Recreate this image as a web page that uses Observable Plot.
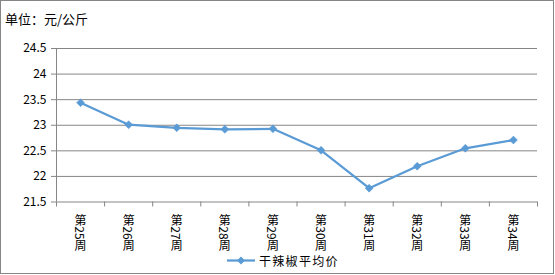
<!DOCTYPE html>
<html>
<head>
<meta charset="utf-8">
<script src="https://cdn.jsdelivr.net/npm/d3@7"></script>
<script src="https://cdn.jsdelivr.net/npm/@observablehq/plot@0.6"></script>
<style>
  html, body { margin: 0; padding: 0; background: #fff; }
  #chart svg { display: block; }
</style>
</head>
<body>
<div id="chart"></div>
<script>
const weeks = ["第25周","第26周","第27周","第28周","第29周","第30周","第31周","第32周","第33周","第34周"];
const prices = [23.44, 23.01, 22.95, 22.92, 22.93, 22.51, 21.77, 22.20, 22.55, 22.71];
const yTicks = [21.5, 22, 22.5, 23, 23.5, 24, 24.5];
const titleText = "单位：元/公斤";
const seriesName = "干辣椒平均价";

const data = weeks.map((w, i) => ({week: w, i, price: prices[i]}));
const boundaries = d3.range(-0.5, weeks.length, 1);

const font = "'Noto Sans CJK SC', 'Noto Sans', sans-serif";
const lineColor = "#5B9BD5";
const gridColor = "#868686";

const plot = Plot.plot({
  width: 555,
  height: 275,
  marginLeft: 56,
  marginRight: 18,
  marginTop: 48,
  marginBottom: 73.5,
  style: {fontFamily: font, fontSize: "12px", background: "#fff"},
  x: {domain: [-0.5, weeks.length - 0.5]},
  y: {domain: [21.5, 24.5]},
  marks: [
    Plot.ruleY(yTicks, {stroke: gridColor, strokeWidth: 1}),
    Plot.ruleX([-0.5], {stroke: gridColor, strokeWidth: 1}),
    Plot.axisY({ticks: yTicks, tickSize: 5, tickPadding: 5, tickFormat: d => String(d), stroke: gridColor, fill: "#000", fontSize: 12, label: null}),
    Plot.axisX({ticks: boundaries, tickSize: 5, tickFormat: () => "", stroke: gridColor, label: null}),
    Plot.text(data, {x: "i", y: () => 21.5, text: "week", dy: 8.5, textAnchor: "start", fill: "#000", fontSize: 12, className: "xlabels"}),
    Plot.line(data, {x: "i", y: "price", stroke: lineColor, strokeWidth: 2.25}),
    Plot.dot(data, {x: "i", y: "price", symbol: "diamond2", r: 3.6, fill: lineColor, stroke: lineColor, strokeWidth: 0.5})
  ]
});

document.getElementById("chart").append(plot);
const svg = d3.select(plot);

// vertical labels
svg.selectAll(".xlabels text")
  .attr("dy", null)
  .style("writing-mode", "vertical-rl")
  .style("text-orientation", "mixed");

// outer border
svg.append("rect").attr("x", 0.5).attr("y", 0.5).attr("width", 553).attr("height", 273)
  .attr("fill", "none").attr("stroke", gridColor).attr("stroke-width", 1);

// title
svg.append("text").attr("x", 5).attr("y", 18).attr("dominant-baseline", "central")
  .attr("text-anchor", "start")
  .attr("font-family", font).attr("font-size", 13).attr("fill", "#000").text(titleText);

// legend
const lg = svg.append("g");
lg.append("line").attr("x1", 227).attr("x2", 255).attr("y1", 260.5).attr("y2", 260.5)
  .attr("stroke", lineColor).attr("stroke-width", 2.25);
lg.append("path").attr("transform", "translate(241,260.5)")
  .attr("d", d3.symbol(d3.symbolDiamond2, 40)()).attr("fill", lineColor);
lg.append("text").attr("x", 259).attr("y", 260.5).attr("dominant-baseline", "central")
  .attr("text-anchor", "start")
  .attr("font-family", font).attr("font-size", 12).attr("letter-spacing", 1.3).attr("fill", "#000").text(seriesName);
</script>
</body>
</html>
